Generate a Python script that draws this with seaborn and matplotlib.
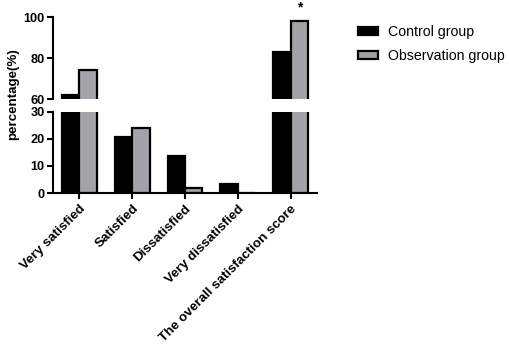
import pandas as pd
import matplotlib
matplotlib.use("Agg")
import matplotlib.pyplot as plt
import seaborn as sns

categories = ["Very satisfied", "Satisfied", "Dissatisfied", "Very dissatisfied",
              "The overall satisfaction score"]
control = [62.07, 20.69, 13.79, 3.45, 82.76]
observation = [74.14, 24.14, 1.72, 0.0, 98.28]
groups = ["Control group", "Observation group"]
colors = ["#000000", "#a2a2a8"]

df = pd.DataFrame({
    "category": categories * 2,
    "value": control + observation,
    "group": [groups[0]] * len(categories) + [groups[1]] * len(categories),
})

sns.set_style("ticks", {"axes.edgecolor": "black", "text.color": "black",
                        "xtick.color": "black", "ytick.color": "black"})
plt.rcParams["font.family"] = ["Liberation Sans", "DejaVu Sans"]

fig = plt.figure(figsize=(5.1, 3.46), dpi=100)
W, H = 510, 346
left, right = 53 / W, 317 / W
ax_top = fig.add_axes([left, 1 - 99 / H, right - left, 82 / H])
ax_bot = fig.add_axes([left, 1 - 193 / H, right - left, 81 / H])

for ax in (ax_top, ax_bot):
    sns.barplot(data=df, x="category", y="value", hue="group", palette=colors,
                width=0.66, edgecolor="black", linewidth=1.6, saturation=1,
                legend=False, ax=ax)
    ax.set_xlim(-0.5, 4.5)
    ax.set_xlabel("")
    ax.set_ylabel("")
    for s in ["left", "bottom"]:
        ax.spines[s].set_linewidth(1.5)
    ax.spines["right"].set_visible(False)
    ax.spines["top"].set_visible(False)
    ax.tick_params(width=1.5, length=4, labelsize=9.2, colors="black", pad=2)

ax_top.set_ylim(60, 100)
ax_top.set_yticks([60, 80, 100])
ax_top.spines["bottom"].set_visible(False)
ax_top.tick_params(axis="x", bottom=False, labelbottom=False)
for lab in ax_top.get_yticklabels():
    lab.set_fontweight("bold")

ax_bot.set_ylim(0, 30)
ax_bot.set_yticks([0, 10, 20, 30])
ax_bot.set_xticks(range(len(categories)))
ax_bot.set_xticklabels(categories, rotation=45, ha="right", rotation_mode="anchor",
                       fontweight="bold", fontsize=9.6)
ax_bot.tick_params(axis="x", pad=3)
for lab in ax_bot.get_yticklabels():
    lab.set_fontweight("bold")

# significance mark
ax_top.text(4 + 0.165, 101, "*", ha="center", va="bottom", fontsize=10,
            fontweight="bold", clip_on=False)

fig.text(13 / W, 1 - 94 / H, "percentage(%)", rotation=90, ha="center",
         va="center", fontsize=9.6, fontweight="bold")

handles = [plt.Rectangle((0, 0), 1, 1, facecolor=c, edgecolor="black", linewidth=1.6)
           for c in colors]
fig.legend(handles, groups, loc="upper left", bbox_to_anchor=(358 / W, 1 - 25 / H),
           frameon=False, fontsize=10.2, handlelength=1.4, handleheight=0.5,
           labelspacing=0.7, handletextpad=0.7, borderpad=0, borderaxespad=0)

fig.savefig("out.png", dpi=100)
